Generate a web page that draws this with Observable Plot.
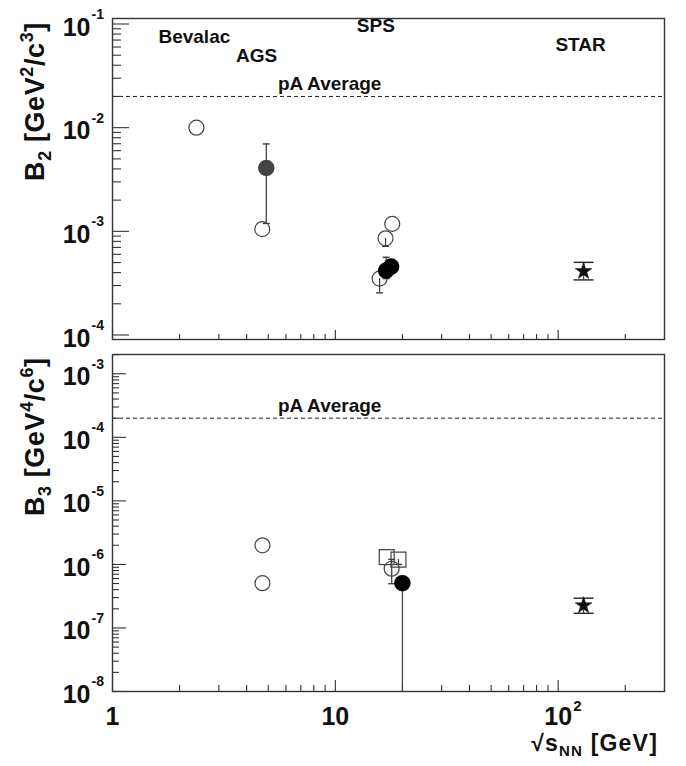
<!DOCTYPE html>
<html><head><meta charset="utf-8">
<script src="https://cdn.jsdelivr.net/npm/d3@7"></script>
<script src="https://cdn.jsdelivr.net/npm/@observablehq/plot@0.6"></script>
<style>
body{margin:0;background:#fff;}
#chart svg{display:block;}
</style>
</head><body><div id="chart"></div>
<script>
const FONT = "'Liberation Sans', Arial, Helvetica, sans-serif";

// ---- x axis (sqrt(s_NN) in GeV) ----
const xDomain = [1, 300];
const xMajor = [1, 10, 100];
const xMinor = [2, 3, 4, 5, 6, 7, 8, 9, 20, 30, 40, 50, 60, 70, 80, 90, 200];
const xTickText = ["1", "10", "10"];
const xTickSup = ["", "", "2"];

// ---- top panel: B2 ----
const b2Domain = [9.05e-5, 0.113];
const b2Decades = [1e-4, 1e-3, 1e-2, 1e-1];
const b2Exp = ["-4", "-3", "-2", "-1"];
const b2PA = 2.0e-2;
const b2LabelText = ["Bevalac", "AGS", "SPS", "STAR", "pA Average"];
const b2LabelX = [2.33, 4.43, 15.2, 126, 9.43];
const b2LabelY = [0.066, 0.0428, 0.0833, 0.0555, 0.0229];
const b2OpenX = [2.38, 4.7, 18.0, 16.8, 15.8];
const b2OpenY = [1.0e-2, 1.05e-3, 1.18e-3, 8.57e-4, 3.5e-4];
const b2GrayX = [4.9];
const b2GrayY = [4.08e-3];
const b2FilledX = [16.9, 17.8];
const b2FilledY = [4.18e-4, 4.57e-4];
const b2StarX = [130];
const b2StarY = [4.12e-4];
const b2ErrX = [4.9, 16.8, 16.9, 15.8, 130];
const b2ErrLo = [1.19e-3, 7.16e-4, 3.5e-4, 2.55e-4, 3.4e-4];
const b2ErrHi = [6.97e-3, 8.57e-4, 5.62e-4, 3.5e-4, 5.02e-4];
const b2CapX = [4.9, 4.9, 16.8, 16.9, 16.9, 15.8];
const b2CapY = [1.19e-3, 6.97e-3, 7.16e-4, 3.5e-4, 5.62e-4, 2.55e-4];
const b2StarCapX = [130, 130];
const b2StarCapY = [3.4e-4, 5.02e-4];

// ---- bottom panel: B3 ----
const b3Domain = [1e-8, 2.01e-3];
const b3Decades = [1e-8, 1e-7, 1e-6, 1e-5, 1e-4, 1e-3];
const b3Exp = ["-8", "-7", "-6", "-5", "-4", "-3"];
const b3PA = 2.0e-4;
const b3LabelText = ["pA Average"];
const b3LabelX = [9.43];
const b3LabelY = [2.48e-4];
const b3OpenX = [4.71, 4.71, 17.9];
const b3OpenY = [2.0e-6, 5.07e-7, 8.55e-7];
const b3SquareX = [17.0, 19.2];
const b3SquareY = [1.30e-6, 1.19e-6];
const b3FilledX = [20.0];
const b3FilledY = [5.07e-7];
const b3StarX = [130];
const b3StarY = [2.25e-7];
const b3ErrX = [17.9, 19.2, 20.0, 130];
const b3ErrLo = [4.97e-7, 1.0e-6, 1e-8, 1.7e-7];
const b3ErrHi = [1.2e-6, 1.19e-6, 5.07e-7, 2.94e-7];
const b3CapX = [17.9, 17.9, 19.2];
const b3CapY = [4.97e-7, 1.2e-6, 1.0e-6];
const b3StarCapX = [130, 130];
const b3StarCapY = [1.7e-7, 2.94e-7];

const zipXY = (xs, ys) => xs.map((x, i) => ({x, y: ys[i]}));
const capSymbol = {draw(ctx, size) { const w = Math.sqrt(size / Math.PI); ctx.moveTo(-w, 0); ctx.lineTo(w, 0); }};

function minorOf(decades, domain) {
  const out = [];
  const all = [decades[0] / 10, ...decades];
  for (const d of all) for (let k = 2; k <= 9; k++) { const v = d * k; if (v >= domain[0] && v <= domain[1]) out.push(v); }
  return out;
}

function panel(o) {
  const dark = "#333";
  const marks = [
    Plot.ruleY([o.pa], {stroke: "#222", strokeWidth: 1, strokeDasharray: "4,3"}),
    Plot.axisY(o.decades, {anchor: "left", tickSize: o.yMajorLen, dx: o.yMajorLen, tickFormat: () => "", label: null, stroke: dark, strokeWidth: 1.1}),
    Plot.axisY(minorOf(o.decades, o.yDomain), {anchor: "left", tickSize: o.yMinorLen, dx: o.yMinorLen, tickFormat: () => "", label: null, stroke: dark, strokeWidth: 1.1}),
    Plot.axisX(xMajor, {anchor: "bottom", tickSize: o.xMajorLen, dy: -o.xMajorLen, tickFormat: () => "", label: null, stroke: dark, strokeWidth: 1.1}),
    Plot.axisX(xMinor, {anchor: "bottom", tickSize: o.xMinorLen, dy: -o.xMinorLen, tickFormat: () => "", label: null, stroke: dark, strokeWidth: 1.1}),
    Plot.frame({stroke: dark, strokeWidth: 1.4}),
    // y tick labels
    Plot.text(o.decades, {x: xDomain[0], y: d => d, text: () => "10", textAnchor: "end", lineAnchor: "middle", dx: -22, dy: 3.5, fontSize: 25, fontWeight: "bold", fill: "#111"}),
    Plot.text(o.decades, {x: xDomain[0], y: d => d, text: (d, i) => o.exps[i], textAnchor: "start", lineAnchor: "middle", dx: -21, dy: -9.5, fontSize: 14, fontWeight: "bold", fill: "#111"}),
    // labels
    Plot.text(o.labelText, {x: (d, i) => o.labelX[i], y: (d, i) => o.labelY[i], text: d => d, textAnchor: "middle", lineAnchor: "bottom", fontSize: 19, fontWeight: "bold", fill: "#111"}),
    // error bars
    Plot.ruleX(o.errX.map((x, i) => ({x, lo: o.errLo[i], hi: o.errHi[i]})), {x: "x", y1: "lo", y2: "hi", stroke: "#444", strokeWidth: 1.3}),
    Plot.dot(zipXY(o.capX, o.capY), {x: "x", y: "y", symbol: capSymbol, r: 3.5, stroke: "#333", strokeWidth: 1.3, fill: "none"}),
    Plot.dot(zipXY(o.starCapX, o.starCapY), {x: "x", y: "y", symbol: capSymbol, r: 10, stroke: "#222", strokeWidth: 1.4, fill: "none"}),
    // markers
    Plot.dot(zipXY(o.openX, o.openY), {x: "x", y: "y", r: 7.5, stroke: "#444", strokeWidth: 1.2, fill: "none"}),
    Plot.dot(zipXY(o.squareX || [], o.squareY || []), {x: "x", y: "y", symbol: "square", r: 8.4, stroke: "#444", strokeWidth: 1.2, fill: "none"}),
    Plot.dot(zipXY(o.grayX || [], o.grayY || []), {x: "x", y: "y", r: 7.5, fill: "#444", stroke: "#444"}),
    Plot.dot(zipXY(o.filledX, o.filledY), {x: "x", y: "y", r: 7.5, fill: "#000", stroke: "#000"}),
    Plot.dot(zipXY(o.starX, o.starY), {x: "x", y: "y", symbol: "star", r: 5.3, fill: "#111", stroke: "#111", strokeWidth: 0.5})
  ];
  if (o.showXLabels) {
    marks.push(
      Plot.text(xMajor, {x: d => d, y: o.yDomain[0], text: (d, i) => xTickText[i], textAnchor: "middle", lineAnchor: "middle", dy: 25, fontSize: 25, fontWeight: "bold", fill: "#111"}),
      Plot.text(xMajor, {x: d => d, y: o.yDomain[0], text: (d, i) => xTickSup[i], textAnchor: "start", lineAnchor: "middle", dx: 15, dy: 15, fontSize: 15, fontWeight: "bold", fill: "#111"})
    );
  }
  return Plot.plot({
    width: 686, height: o.height,
    marginLeft: 112, marginRight: 22, marginTop: o.marginTop, marginBottom: o.marginBottom,
    x: {type: "log", domain: xDomain, axis: null},
    y: {type: "log", domain: o.yDomain, axis: null},
    style: {fontFamily: FONT, background: "white", overflow: "visible"},
    marks
  });
}

function addText(svg, {x, y, rotate = 0, anchor = "middle", size, spacing = 0, parts}) {
  const t = d3.select(svg).append("text")
    .attr("transform", `translate(${x},${y}) rotate(${rotate})`)
    .attr("text-anchor", anchor)
    .attr("font-family", FONT).attr("font-weight", "bold")
    .attr("letter-spacing", spacing)
    .attr("font-size", size).attr("fill", "#111");
  for (const p of parts) {
    const s = t.append("tspan").text(p.t).attr("font-size", p.size || size);
    if (p.dy) s.attr("dy", p.dy);
  }
  return t;
}

const topPanel = panel({
  height: 340, marginTop: 18, marginBottom: 1,
  yDomain: b2Domain, decades: b2Decades, exps: b2Exp, pa: b2PA,
  yMajorLen: 17, yMinorLen: 9, xMajorLen: 9, xMinorLen: 5,
  labelText: b2LabelText, labelX: b2LabelX, labelY: b2LabelY,
  openX: b2OpenX, openY: b2OpenY, grayX: b2GrayX, grayY: b2GrayY,
  filledX: b2FilledX, filledY: b2FilledY, starX: b2StarX, starY: b2StarY,
  errX: b2ErrX, errLo: b2ErrLo, errHi: b2ErrHi,
  capX: b2CapX, capY: b2CapY, starCapX: b2StarCapX, starCapY: b2StarCapY,
  showXLabels: false
});
const bottomPanel = panel({
  height: 426, marginTop: 14, marginBottom: 75,
  yDomain: b3Domain, decades: b3Decades, exps: b3Exp, pa: b3PA,
  yMajorLen: 14, yMinorLen: 7, xMajorLen: 11, xMinorLen: 6,
  labelText: b3LabelText, labelX: b3LabelX, labelY: b3LabelY,
  openX: b3OpenX, openY: b3OpenY, squareX: b3SquareX, squareY: b3SquareY,
  filledX: b3FilledX, filledY: b3FilledY, starX: b3StarX, starY: b3StarY,
  errX: b3ErrX, errLo: b3ErrLo, errHi: b3ErrHi,
  capX: b3CapX, capY: b3CapY, starCapX: b3StarCapX, starCapY: b3StarCapY,
  showXLabels: true
});

addText(topPanel, {x: 44, y: 101.5, rotate: -90, size: 27, spacing: 0.6, parts: [
  {t: "B"}, {t: "2", size: 18, dy: 7}, {t: " [GeV", dy: -7}, {t: "2", size: 18, dy: -11}, {t: "/c", dy: 11}, {t: "3", size: 18, dy: -11}, {t: "]", dy: 11}
]});
addText(bottomPanel, {x: 44, y: 96.7, rotate: -90, size: 27, spacing: 0.6, parts: [
  {t: "B"}, {t: "3", size: 18, dy: 7}, {t: " [GeV", dy: -7}, {t: "4", size: 18, dy: -11}, {t: "/c", dy: 11}, {t: "6", size: 18, dy: -11}, {t: "]", dy: 11}
]});
addText(bottomPanel, {x: 658, y: 411, anchor: "end", size: 23, spacing: 1.2, parts: [
  {t: "√s"}, {t: "NN", size: 15, dy: 5}, {t: " [GeV]", dy: -5}
]});

document.getElementById("chart").append(topPanel, bottomPanel);
</script>
</body></html>
